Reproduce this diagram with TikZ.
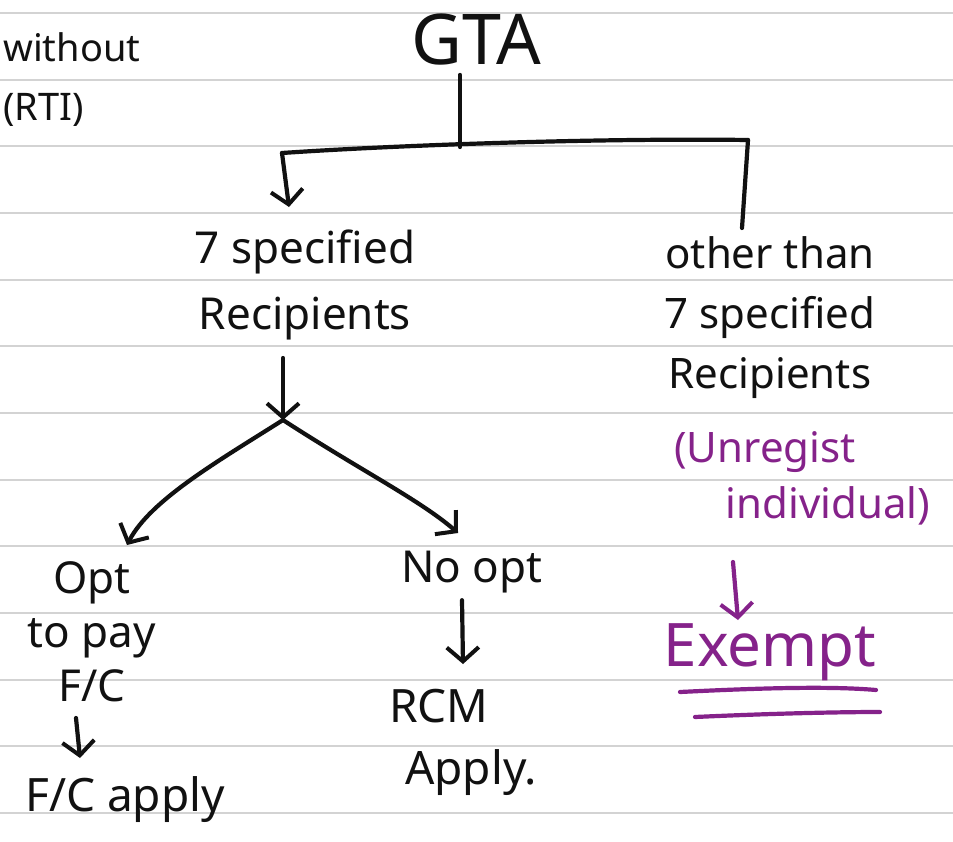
\documentclass[tikz,border=0pt]{standalone}
\usepackage{fontspec}
\setmainfont{Noto Sans}
\usetikzlibrary{arrows.meta}
\definecolor{rule}{HTML}{D3D3D3}
\definecolor{ink}{HTML}{111111}
\definecolor{violet}{HTML}{85228A}
\tikzset{
  txt/.style={text=ink, inner sep=1pt, align=center, font=\fontsize{44}{66}\selectfont},
  ptxt/.style={txt, text=violet},
  wire/.style={draw=ink, line width=4.2pt, line cap=round, line join=round},
  pwire/.style={wire, draw=violet},
  barb/.style={-{Straight Barb[length=14pt,width=32pt,line width=4pt]}},
}
\begin{document}
\begin{tikzpicture}[x=1pt,y=-1pt]
\useasboundingbox (0,0) rectangle (953,841);
\fill[white] (0,0) rectangle (953,841);
% ruled paper
\foreach \k in {0,...,12}
  \draw[rule, line width=2.2pt] (0,{13+66.67*\k}) -- (953,{13+66.67*\k});

% margin note
\node[txt, anchor=west, font=\fontsize{38}{44}\selectfont] (wo) at (2,47) {without};
\node[txt, anchor=west, font=\fontsize{38}{44}\selectfont] (rti) at (2,110) {(RTI)};

% top of the tree
\node[txt, font=\fontsize{70}{74}\selectfont] (gta) at (476,40) {GTA};
\coordinate (bar)  at (460,147);
\coordinate (barL) at (282,153);
\coordinate (barR) at (748,140);
\draw[wire] (gta.south) ++(-16,8) -- (bar);
\draw[wire] (barL) .. controls (400,145) and (600,138) .. (barR);

\node[txt] (spec) at (305,285) {7 specified\\Recipients};
\node[txt, font=\fontsize{42}{60}\selectfont] (other) at (770,318) {other than\\7 specified\\Recipients};
\draw[wire, barb] (barL) -- (289,207);
\draw[wire] (barR) -- (742,228);

% split below the specified recipients
\coordinate (split) at (283,420);
\draw[wire, barb] (283,358) -- (split);

\node[txt, font=\fontsize{44}{54}\selectfont] (opt) at (92,632) {Opt\\to pay\\F/C};
\node[txt] (noopt) at (472,572) {No opt};
\draw[wire, barb] (split) .. controls (220,460) and (150,500) .. (127,545);
\draw[wire, barb] (split) .. controls (360,470) and (420,500) .. (458,533);

\node[txt, font=\fontsize{46}{50}\selectfont] (fcapply) at (125,800) {F/C apply};
\draw[wire, barb] (76,718) -- (80,758);

\node[txt, align=left, font=\fontsize{46}{62}\selectfont, anchor=north west] (rcm) at (388,688) {RCM\\\hspace*{0.35em}Apply.};
\draw[wire, barb] (noopt.south) ++(-10,6) -- (463,664);

% unregistered branch in violet
\node[ptxt, font=\fontsize{42}{56}\selectfont] (unreg) at (765,478) {(Unregist\\\hspace*{3em}individual)};
\node[ptxt, font=\fontsize{60}{64}\selectfont] (exempt) at (770,652) {Exempt};
\draw[pwire, barb] (733,562) -- (738,620);
\draw[pwire] (680,692) .. controls (760,688) and (830,686) .. (876,690);
\draw[pwire] (695,717) .. controls (760,714) and (830,712) .. (880,712);
\end{tikzpicture}
\end{document}
